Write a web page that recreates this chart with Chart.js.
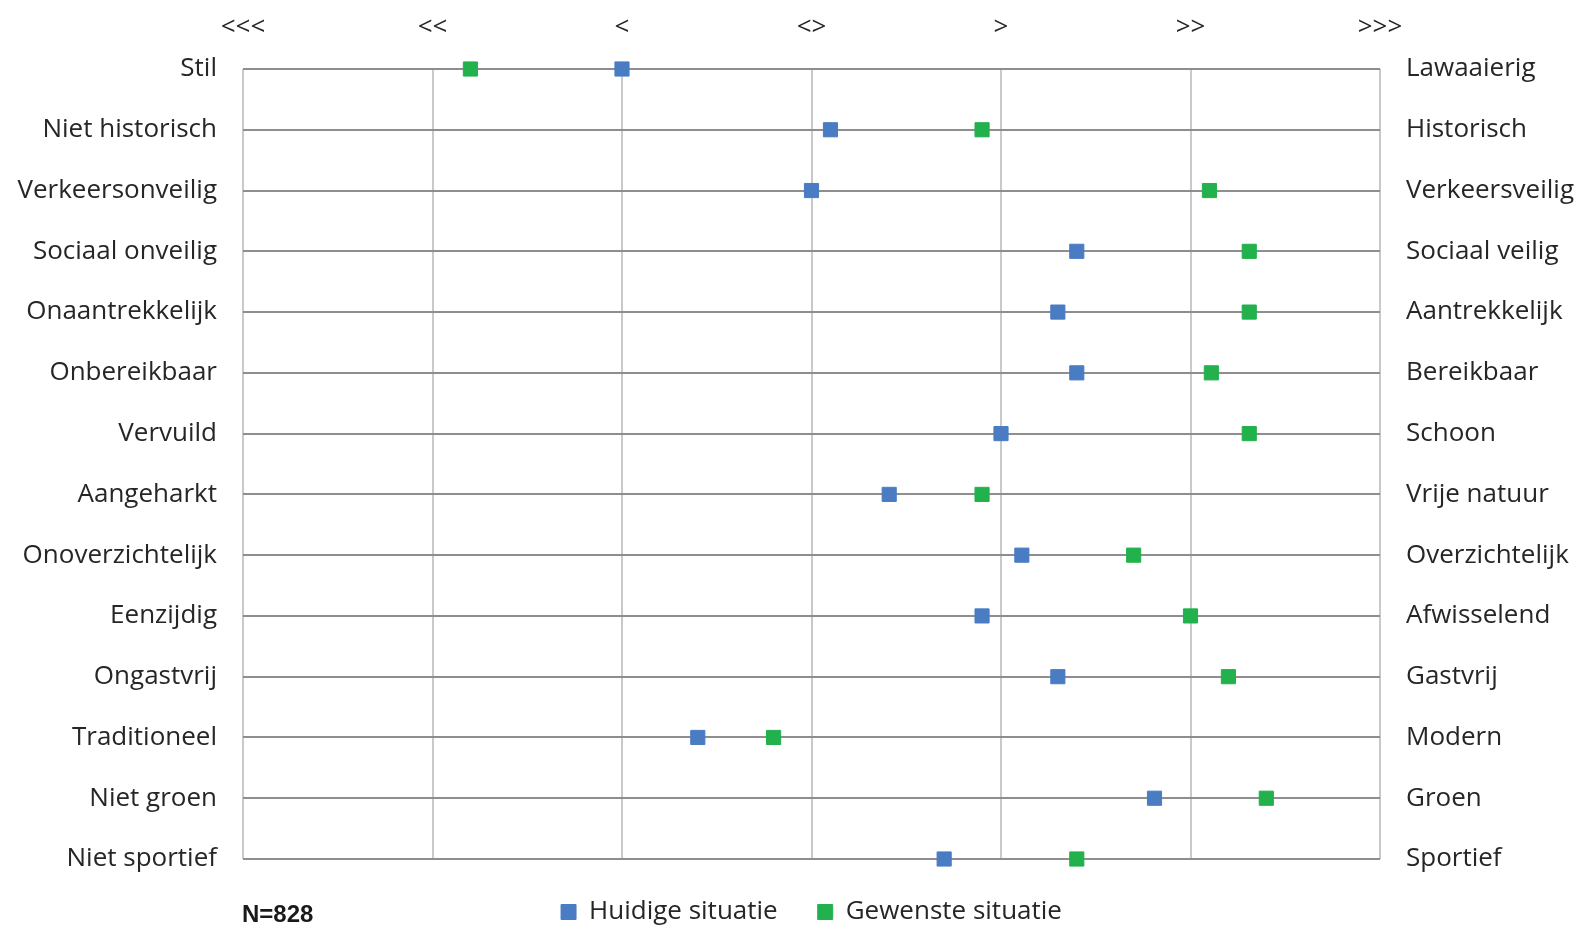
<!DOCTYPE html>
<html>
<head>
<meta charset="utf-8">
<script src="https://cdn.jsdelivr.net/npm/chart.js@4/dist/chart.umd.min.js"></script>
<style>
  html, body { margin: 0; padding: 0; background: #fff; overflow: hidden; }
  #wrap { position: relative; width: 1583px; height: 926px; }
  #chart { display: block; }
  #note { position: absolute; left: 242px; top: 900px; line-height: 24px; font: bold 24px "Liberation Sans", Arial, sans-serif; color: #1a1a1a; }
</style>
</head>
<body>
<div id="wrap">
  <canvas id="chart" width="1583" height="926"></canvas>
  <div id="note">N=828</div>
</div>
<script>
// semantic differential: left pole, right pole, score -3..3
const leftLabels = ["Stil", "Niet historisch", "Verkeersonveilig", "Sociaal onveilig", "Onaantrekkelijk", "Onbereikbaar", "Vervuild", "Aangeharkt", "Onoverzichtelijk", "Eenzijdig", "Ongastvrij", "Traditioneel", "Niet groen", "Niet sportief"];
const rightLabels = ["Lawaaierig", "Historisch", "Verkeersveilig", "Sociaal veilig", "Aantrekkelijk", "Bereikbaar", "Schoon", "Vrije natuur", "Overzichtelijk", "Afwisselend", "Gastvrij", "Modern", "Groen", "Sportief"];
const scaleLabels = ["<<<", "<<", "<", "<>", ">", ">>", ">>>"];

const huidige = [-1.0, 0.1, 0.0, 1.4, 1.3, 1.4, 1.0, 0.41, 1.11, 0.9, 1.3, -0.6, 1.81, 0.7];
const gewenst = [-1.8, 0.9, 2.1, 2.31, 2.31, 2.11, 2.31, 0.9, 1.7, 2.0, 2.2, -0.2, 2.4, 1.4];

const FONT = { family: "'Open Sans', sans-serif", size: 26 };
const TEXT = "#262626";

const toPoints = (vals) => vals.map((v, i) => ({ x: v, y: i }));

new Chart(document.getElementById("chart"), {
  type: "scatter",
  data: {
    datasets: [
      { label: "Huidige situatie", data: toPoints(huidige), backgroundColor: "#4a7cc4", borderColor: "#4a7cc4", pointStyle: "rect", pointRadius: 10, pointBorderWidth: 1, clip: false },
      { label: "Gewenste situatie", data: toPoints(gewenst), backgroundColor: "#22b14c", borderColor: "#22b14c", pointStyle: "rect", pointRadius: 10, pointBorderWidth: 1, clip: false },
    ],
  },
  options: {
    responsive: false,
    animation: false,
    layout: { padding: { bottom: -9 } },
    plugins: {
      tooltip: { enabled: false },
      legend: {
        position: "bottom",
        fullSize: false,
        labels: { color: TEXT, font: FONT, boxWidth: 15, boxHeight: 15, padding: 40 },
      },
    },
    scales: {
      x: {
        type: "linear",
        position: "top",
        min: -3,
        max: 3,
        ticks: { stepSize: 1, color: TEXT, font: FONT, padding: 26, callback: (v) => scaleLabels[v + 3] },
        grid: { color: "#c9c9c9", lineWidth: 2, drawTicks: false },
        border: { display: false },
        afterFit: (s) => { s.height = 69; },
      },
      y: {
        type: "linear",
        position: "left",
        min: 0,
        max: 13,
        reverse: true,
        ticks: { stepSize: 1, color: TEXT, font: FONT, padding: 26, callback: (v) => leftLabels[v] },
        grid: { color: "#8e8e8e", lineWidth: 2, drawTicks: false },
        border: { display: false },
        afterFit: (s) => { s.width = 243; },
      },
      y2: {
        type: "linear",
        position: "right",
        min: 0,
        max: 13,
        reverse: true,
        ticks: { stepSize: 1, color: TEXT, font: FONT, padding: 26, callback: (v) => rightLabels[v] },
        grid: { display: false, drawTicks: false },
        border: { display: false },
        afterFit: (s) => { s.width = 203; },
      },
    },
  },
});
</script>
</body>
</html>
